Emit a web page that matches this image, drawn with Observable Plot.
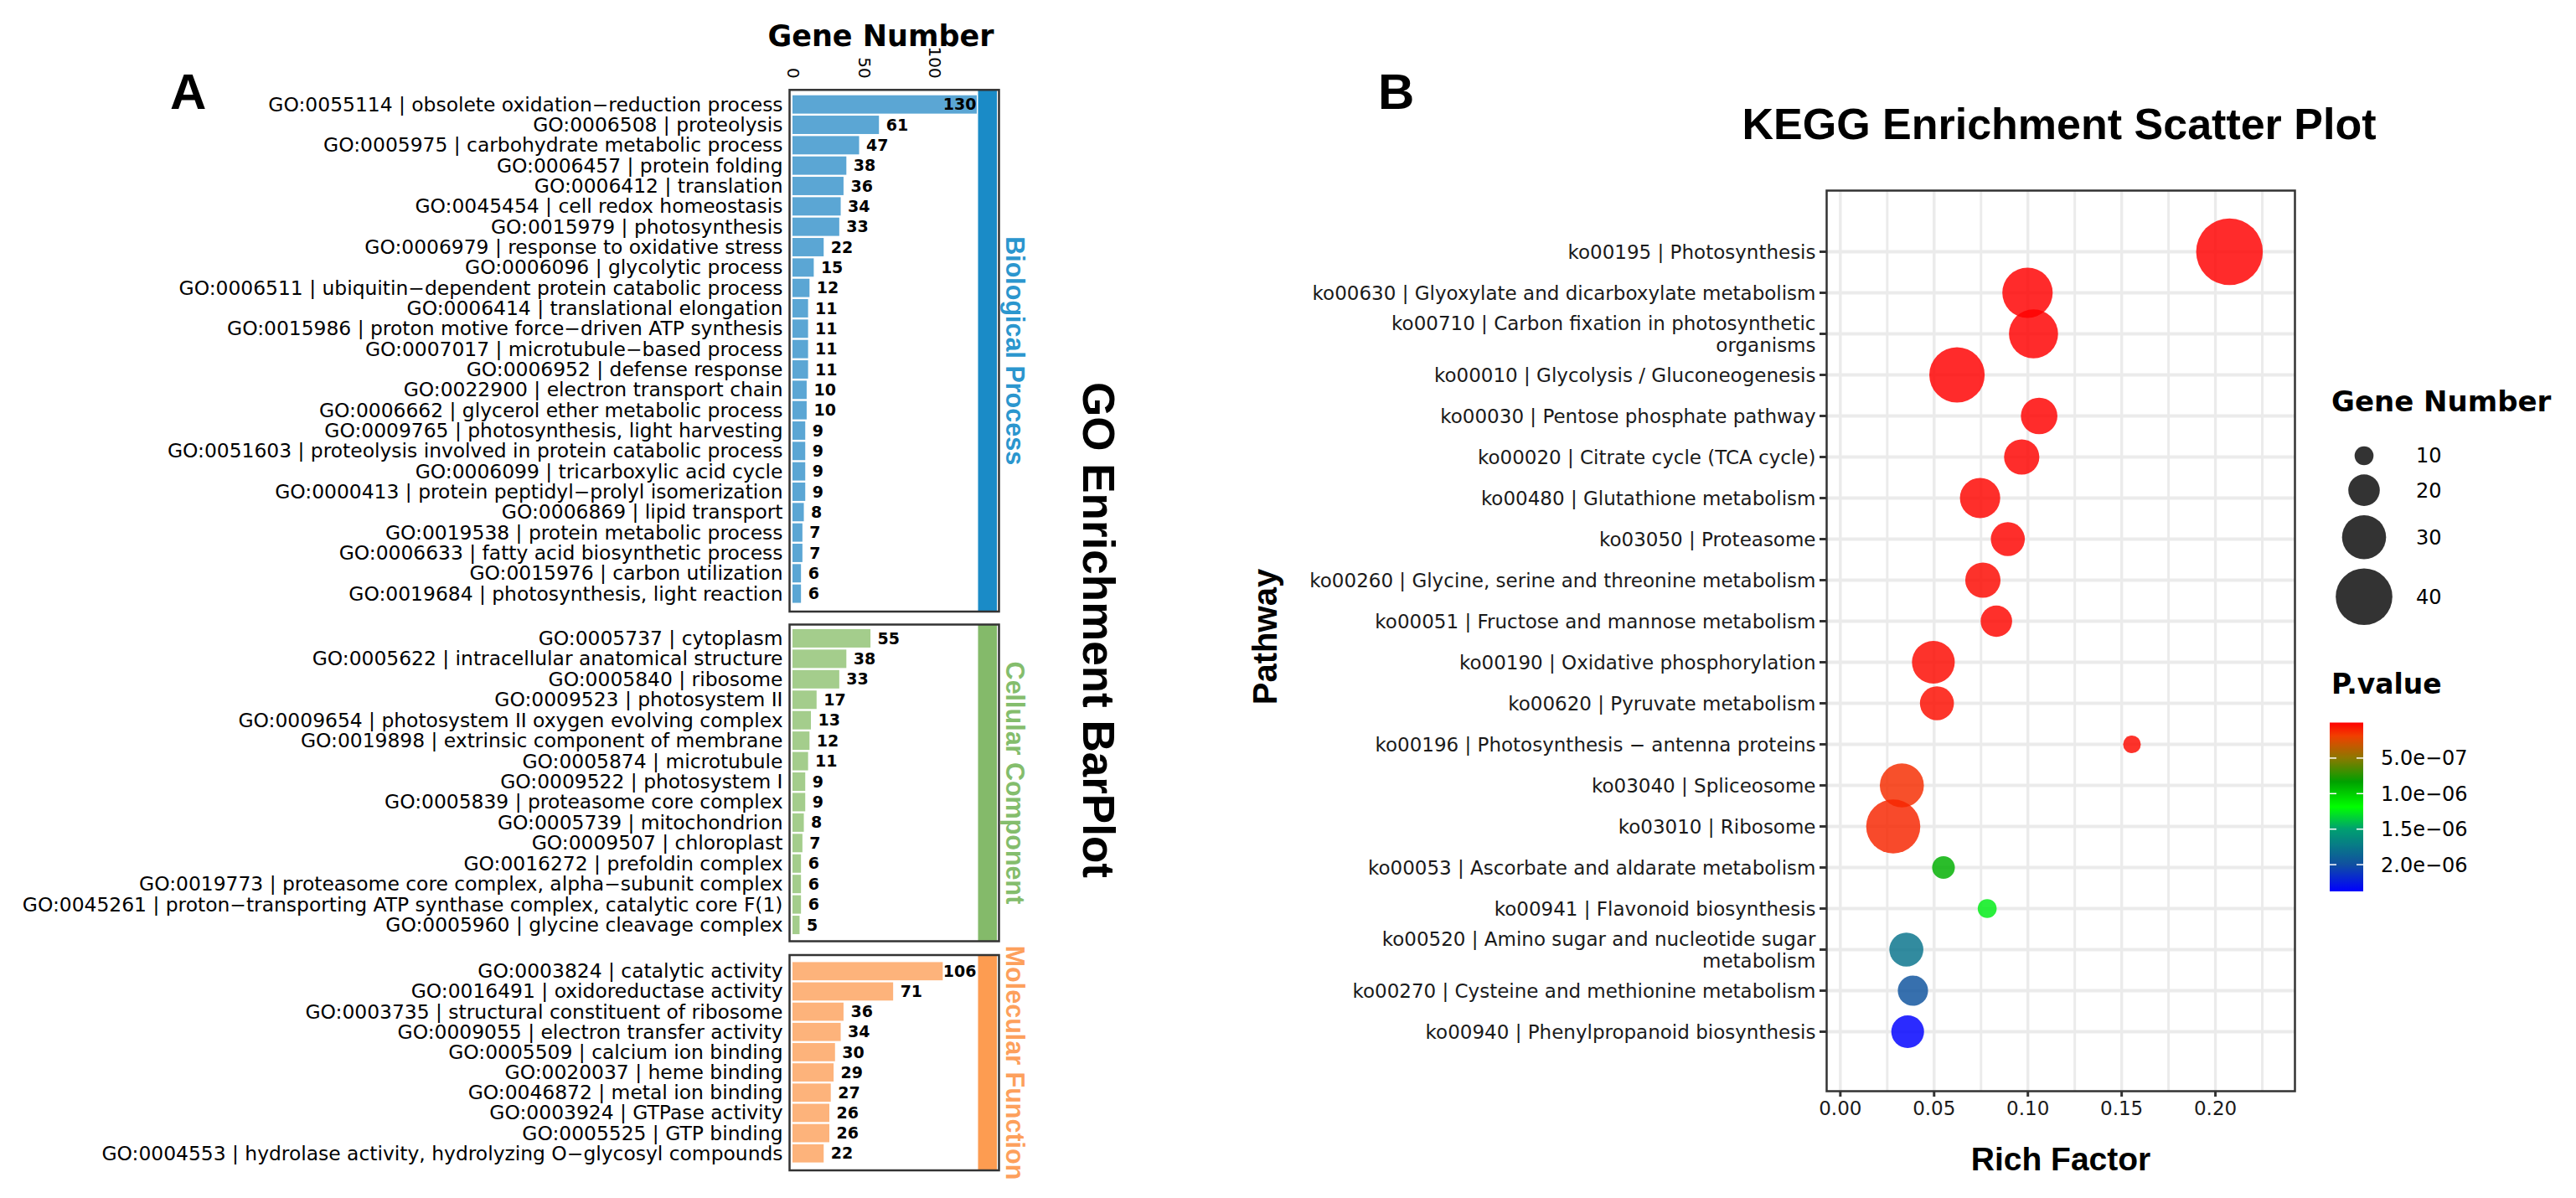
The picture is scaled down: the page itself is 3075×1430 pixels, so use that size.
<!DOCTYPE html>
<html><head><meta charset="utf-8">
<script src="https://cdn.jsdelivr.net/npm/d3@7"></script>
<script src="https://cdn.jsdelivr.net/npm/@observablehq/plot@0.6"></script>
<style>
html,body{margin:0;padding:0;background:#fff;}
#root{position:relative;width:3075px;height:1430px;overflow:hidden;background:#fff;}
#root svg{position:absolute;left:0;top:0;}
</style></head><body><div id="root"></div>
<script>
// ---------- Panel A data (GO enrichment) ----------
const bpTerms = [
"GO:0055114 | obsolete oxidation−reduction process","GO:0006508 | proteolysis","GO:0005975 | carbohydrate metabolic process",
"GO:0006457 | protein folding","GO:0006412 | translation","GO:0045454 | cell redox homeostasis","GO:0015979 | photosynthesis",
"GO:0006979 | response to oxidative stress","GO:0006096 | glycolytic process","GO:0006511 | ubiquitin−dependent protein catabolic process",
"GO:0006414 | translational elongation","GO:0015986 | proton motive force−driven ATP synthesis","GO:0007017 | microtubule−based process",
"GO:0006952 | defense response","GO:0022900 | electron transport chain","GO:0006662 | glycerol ether metabolic process",
"GO:0009765 | photosynthesis, light harvesting","GO:0051603 | proteolysis involved in protein catabolic process",
"GO:0006099 | tricarboxylic acid cycle","GO:0000413 | protein peptidyl−prolyl isomerization","GO:0006869 | lipid transport",
"GO:0019538 | protein metabolic process","GO:0006633 | fatty acid biosynthetic process","GO:0015976 | carbon utilization",
"GO:0019684 | photosynthesis, light reaction"];
const bpCounts = [130,61,47,38,36,34,33,22,15,12,11,11,11,11,10,10,9,9,9,9,8,7,7,6,6];

const ccTerms = [
"GO:0005737 | cytoplasm","GO:0005622 | intracellular anatomical structure","GO:0005840 | ribosome","GO:0009523 | photosystem II",
"GO:0009654 | photosystem II oxygen evolving complex","GO:0019898 | extrinsic component of membrane","GO:0005874 | microtubule",
"GO:0009522 | photosystem I","GO:0005839 | proteasome core complex","GO:0005739 | mitochondrion","GO:0009507 | chloroplast",
"GO:0016272 | prefoldin complex","GO:0019773 | proteasome core complex, alpha−subunit complex",
"GO:0045261 | proton−transporting ATP synthase complex, catalytic core F(1)","GO:0005960 | glycine cleavage complex"];
const ccCounts = [55,38,33,17,13,12,11,9,9,8,7,6,6,6,5];

const mfTerms = [
"GO:0003824 | catalytic activity","GO:0016491 | oxidoreductase activity","GO:0003735 | structural constituent of ribosome",
"GO:0009055 | electron transfer activity","GO:0005509 | calcium ion binding","GO:0020037 | heme binding",
"GO:0046872 | metal ion binding","GO:0003924 | GTPase activity","GO:0005525 | GTP binding",
"GO:0004553 | hydrolase activity, hydrolyzing O−glycosyl compounds"];
const mfCounts = [106,71,36,34,30,29,27,26,26,22];

const goCategories = ["Biological Process","Cellular Component","Molecular Function"];
const goTicks = [0,50,100];

// ---------- Panel B data (KEGG scatter) ----------
const keggPaths = [
"ko00195 | Photosynthesis","ko00630 | Glyoxylate and dicarboxylate metabolism",
"ko00710 | Carbon fixation in photosynthetic\norganisms","ko00010 | Glycolysis / Gluconeogenesis",
"ko00030 | Pentose phosphate pathway","ko00020 | Citrate cycle (TCA cycle)","ko00480 | Glutathione metabolism",
"ko03050 | Proteasome","ko00260 | Glycine, serine and threonine metabolism","ko00051 | Fructose and mannose metabolism",
"ko00190 | Oxidative phosphorylation","ko00620 | Pyruvate metabolism","ko00196 | Photosynthesis − antenna proteins",
"ko03040 | Spliceosome","ko03010 | Ribosome","ko00053 | Ascorbate and aldarate metabolism","ko00941 | Flavonoid biosynthesis",
"ko00520 | Amino sugar and nucleotide sugar\nmetabolism","ko00270 | Cysteine and methionine metabolism",
"ko00940 | Phenylpropanoid biosynthesis"];
const keggRich = [0.2075,0.0998,0.1030,0.0622,0.1060,0.0967,0.0745,0.0893,0.0760,0.0832,0.0496,0.0515,0.1555,0.0328,0.0282,0.0550,0.0783,0.0352,0.0387,0.0359];
const keggCount = [48,35,34,39,24,23,27,22,23,20,29,22,9,30,38,13,10,22,19,21];
const keggP = [2.1e-24,6.3e-14,1.5e-13,3.4e-12,2.2e-9,8.9e-9,1.4e-8,1.1e-8,2.6e-8,1.9e-8,3.1e-8,3.8e-8,2.9e-8,1.3e-7,1.1e-7,8.9e-7,1.25e-6,1.78e-6,1.98e-6,2.376e-6];
const richTicks = [0,0.05,0.10,0.15,0.20];
const richMinor = [0.025,0.075,0.125,0.175,0.225];
const sizeBreaks = [10,20,30,40];
// colour ramp of the P.value legend (stop positions as fractions of the p range)
const pStops = [0, 0.08, 0.21, 0.35, 0.5, 0.63, 0.84, 1];
const pColors = ["#FF0000", "#F04000", "#8C7800", "#00A000", "#00FF00", "#00A070", "#1050A0", "#0000FF"];

// ---------- layout ----------
const root = document.getElementById("root");
const AF = {left: 942.5, right: 1192.5, width: 1260};
const goMax = d3.max([...bpCounts, ...ccCounts, ...mfCounts]);
const panelsA = [
  {terms: bpTerms, counts: bpCounts, bar: "#5BA6D4", strip: "#1A8BC7", text: "#2B96CE", top: 107.3, bottom: 730, iT: 4, iB: 8, axis: true},
  {terms: ccTerms, counts: ccCounts, bar: "#A4CD8C", strip: "#84BA6A", text: "#84BD6C", top: 745.5, bottom: 1123.5, iT: 3, iB: 6, axis: false},
  {terms: mfTerms, counts: mfCounts, bar: "#FDB37B", strip: "#FD9C51", text: "#FDA05C", top: 1140, bottom: 1397, iT: 6, iB: 7, axis: false}
];

panelsA.forEach((p, k) => {
  const data = p.terms.map((t, i) => ({term: t, count: p.counts[i]}));
  const marks = [
    Plot.barX(data, {x: "count", y: "term", fill: p.bar}),
    Plot.text(data.filter(d => d.count < 100), {x: "count", y: "term", text: d => String(d.count), textAnchor: "start", dx: 8, fontWeight: "bold", fontSize: 19, fill: "black"}),
    Plot.text(data.filter(d => d.count >= 100), {y: "term", text: d => String(d.count), frameAnchor: "right", textAnchor: "end", dx: -27.5, fontWeight: "bold", fontSize: 19, fill: "black"}),
    Plot.axisY({tickSize: 0, tickPadding: 8.5, fontSize: 23.4, label: null})
  ];
  if (p.axis) marks.push(Plot.axisX({anchor: "top", ticks: goTicks, tickSize: 0, tickPadding: 14, tickRotate: 90, fontSize: 20, label: null}));
  const chart = Plot.plot({
    width: AF.width, height: 1430,
    marginLeft: AF.left, marginRight: AF.width - AF.right, marginTop: p.top, marginBottom: 1430 - p.bottom,
    style: {background: "none", fontFamily: "DejaVu Sans", fontSize: "23px", color: "black"},
    x: {domain: [0, goMax], insetLeft: 3.5, insetRight: 26.5, axis: p.axis ? undefined : null, label: null},
    y: {domain: p.terms, paddingInner: 0.1, paddingOuter: 0.1, round: false, insetTop: p.iT, insetBottom: p.iB, label: null},
    marks
  });
  const svg = d3.select(chart);
  const xr = chart.scale("x").range;
  svg.append("rect").attr("x", xr[1] + 1.5).attr("y", p.top).attr("width", AF.right - 2.5 - (xr[1] + 1.5)).attr("height", p.bottom - p.top).attr("fill", p.strip);
  svg.append("rect").attr("x", AF.left).attr("y", p.top).attr("width", AF.right - AF.left).attr("height", p.bottom - p.top)
    .attr("fill", "none").attr("stroke", "#333").attr("stroke-width", 2.5);
  root.appendChild(chart);
});

// ---------- Panel B ----------
const keggData = keggPaths.map((p, i) => ({path: p, rich: keggRich[i], count: keggCount[i], p: keggP[i]}));
const pExt = d3.extent(keggP);
const plotB = Plot.plot({
  width: 2760, height: 1430,
  marginLeft: 2180, marginRight: 21, marginTop: 227, marginBottom: 128,
  style: {background: "none", fontFamily: "DejaVu Sans", fontSize: "23px", color: "#1a1a1a"},
  x: {domain: [-0.0073, 0.2424], label: null},
  y: {type: "point", domain: keggPaths, padding: 0, insetTop: 73, insetBottom: 71, label: null},
  r: {type: "linear", domain: [10, 40], range: [11.3, 33.8]},
  color: {type: "linear", domain: pStops.map(f => pExt[0] + f * (pExt[1] - pExt[0])), range: pColors, interpolate: "rgb"},
  marks: [
    Plot.gridX(richMinor, {stroke: "#EBEBEB", strokeOpacity: 1, strokeWidth: 3}),
    Plot.gridX(richTicks, {stroke: "#EBEBEB", strokeOpacity: 1, strokeWidth: 3.4}),
    Plot.gridY({stroke: "#EBEBEB", strokeOpacity: 1, strokeWidth: 4}),
    Plot.dot(keggData, {x: "rich", y: "path", r: "count", fill: "p", fillOpacity: 0.83, sort: null}),
    Plot.frame({stroke: "#333", strokeWidth: 2.5}),
    Plot.axisY({tickSize: 8, tickPadding: 5, fontSize: 23, lineHeight: 1.13, stroke: "#333", strokeWidth: 3, label: null}),
    Plot.axisX({ticks: richTicks, tickSize: 7, tickPadding: 5, fontSize: 23, stroke: "#333", strokeWidth: 3, tickFormat: d3.format(".2f"), label: null})
  ]
});
root.appendChild(plotB);

// ---------- overlay: titles, strip labels, legends ----------
const ov = d3.select(root).append("svg").attr("width", 3075).attr("height", 1430);
function T(x, y, s, o = {}) {
  const t = ov.append("text").attr("x", x).attr("y", y).text(s)
    .attr("font-family", o.family || "DejaVu Sans").attr("font-size", o.size || 23)
    .attr("font-weight", o.weight || "normal").attr("fill", o.fill || "black")
    .attr("text-anchor", o.anchor || "start");
  if (o.rotate) t.attr("transform", `rotate(${o.rotate},${x},${y})`);
  if (o.dy) t.attr("dy", o.dy);
  return t;
}
const ARIAL = "Liberation Sans, Arial, sans-serif";
T(203, 130, "A", {family: ARIAL, weight: "bold", size: 60});
T(1645, 130, "B", {family: ARIAL, weight: "bold", size: 60});
T(1051.5, 55, "Gene Number", {weight: "bold", size: 35, anchor: "middle"});
T(1293, 752, "GO Enrichment BarPlot", {family: ARIAL, weight: "bold", size: 53, anchor: "middle", rotate: 90});
panelsA.forEach((p, k) => {
  T(1201, (p.top + p.bottom) / 2, goCategories[k], {family: ARIAL, weight: "bold", size: 30.5, anchor: "middle", rotate: 90, fill: p.text});
});
T(2458, 166, "KEGG Enrichment Scatter Plot", {family: ARIAL, weight: "bold", size: 52, anchor: "middle"});
T(2460, 1397, "Rich Factor", {family: ARIAL, weight: "bold", size: 39, anchor: "middle"});
T(1524, 760, "Pathway", {family: ARIAL, weight: "bold", size: 40, anchor: "middle", rotate: -90});

// size legend
const rS = plotB.scale("r");
T(2783, 491, "Gene Number", {weight: "bold", size: 34});
let cy = 544, prevR = null;
sizeBreaks.forEach((v, i) => {
  const r = rS.apply(v);
  if (prevR !== null) cy += prevR + r + 11;
  ov.append("circle").attr("cx", 2822).attr("cy", cy).attr("r", r).attr("fill", "#333");
  T(2884, cy, String(v), {size: 24, dy: "0.35em"});
  prevR = r;
});

// colour bar legend
const cS = plotB.scale("color");
const [lo, hi] = [pExt[0], pExt[1]];
const barX = 2781, barW = 40, barTop = 862.5, barH = 201.5;
T(2783, 828, "P.value", {weight: "bold", size: 33});
const grad = ov.append("defs").append("linearGradient").attr("id", "pgrad").attr("x1", 0).attr("x2", 0).attr("y1", 0).attr("y2", 1);
d3.range(0, 101).forEach(k => {
  const v = lo + (hi - lo) * k / 100;
  grad.append("stop").attr("offset", k / 100).attr("stop-color", cS.apply(v));
});
ov.append("rect").attr("x", barX).attr("y", barTop).attr("width", barW).attr("height", barH).attr("fill", "url(#pgrad)");
function sci(v) {
  const [m, e] = v.toExponential(1).split("e");
  const n = +e;
  return m + "e" + (n < 0 ? "−" : "+") + String(Math.abs(n)).padStart(2, "0");
}
d3.ticks(lo, hi, 4).forEach(v => {
  const y = barTop + (v - lo) / (hi - lo) * barH;
  ov.append("line").attr("x1", barX).attr("x2", barX + 8).attr("y1", y).attr("y2", y).attr("stroke", "white").attr("stroke-width", 1.5);
  ov.append("line").attr("x1", barX + barW - 8).attr("x2", barX + barW).attr("y1", y).attr("y2", y).attr("stroke", "white").attr("stroke-width", 1.5);
  T(2842, y, sci(v), {size: 24, dy: "0.35em"});
});
</script></body></html>
